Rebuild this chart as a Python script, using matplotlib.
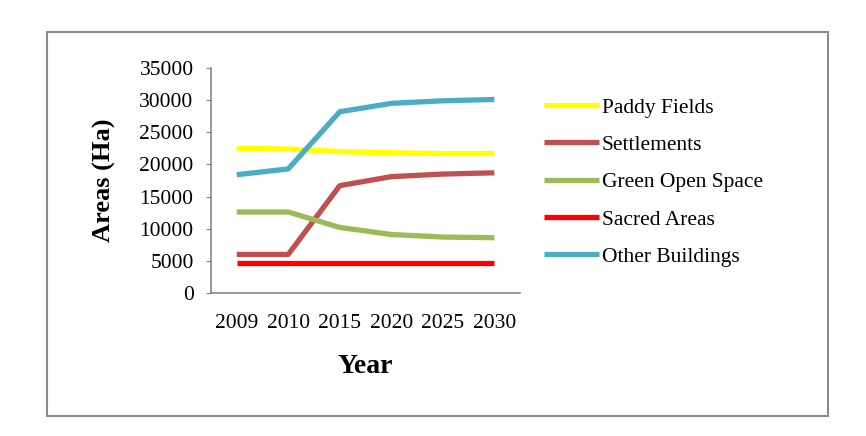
import matplotlib
matplotlib.use("Agg")
import matplotlib.pyplot as plt
from matplotlib.patches import Rectangle

# Data
years = ["2009", "2010", "2015", "2020", "2025", "2030"]
paddy_fields = [22500, 22400, 22000, 21800, 21700, 21700]
settlements = [6000, 6000, 16700, 18100, 18500, 18700]
green_open_space = [12600, 12600, 10200, 9100, 8700, 8600]
sacred_areas = [4600, 4600, 4600, 4600, 4600, 4600]
other_buildings = [18400, 19300, 28200, 29500, 29900, 30100]

series = [
    ("Paddy Fields", paddy_fields, "#FFFF00"),
    ("Settlements", settlements, "#C0504D"),
    ("Green Open Space", green_open_space, "#9BBB59"),
    ("Sacred Areas", sacred_areas, "#FF0000"),
    ("Other Buildings", other_buildings, "#4BACC6"),
]

plt.rcParams["font.family"] = ["Liberation Serif", "DejaVu Serif"]

fig = plt.figure(figsize=(8.66, 4.36), dpi=100)
ax = fig.add_axes([0.2436, 0.328, 0.357, 0.516])

x = list(range(len(years)))
for name, values, color in series:
    ax.plot(x, values, color=color, linewidth=3.8, label=name,
            solid_joinstyle="round", solid_capstyle="butt")

ax.set_xlim(-0.5, len(years) - 0.5)
ax.set_ylim(0, 35000)
ax.set_yticks(range(0, 35001, 5000))
ax.set_xticks(x)
ax.set_xticklabels(years)

for side in ["top", "right"]:
    ax.spines[side].set_visible(False)
for side in ["left", "bottom"]:
    ax.spines[side].set_color("#868686")
    ax.spines[side].set_linewidth(1.2)

ax.tick_params(axis="y", length=3.5, color="#868686", labelsize=15.5, pad=9)
ax.tick_params(axis="x", length=0, labelsize=15.5, pad=15)

ax.set_xlabel("Year", fontsize=20, fontweight="bold", labelpad=15)
ax.set_ylabel("Areas (Ha)", fontsize=19, fontweight="bold", labelpad=17)

ax.legend(loc="upper left", bbox_to_anchor=(0.628, 0.776),
          bbox_transform=fig.transFigure, frameon=False, fontsize=15.5,
          handlelength=2.55, handletextpad=0.15, labelspacing=0.8,
          borderaxespad=0, borderpad=0)

# Outer chart border
fig.patches.append(Rectangle((47 / 866, 1 - 416 / 436), (828 - 47) / 866,
                             (416 - 32) / 436, transform=fig.transFigure,
                             fill=False, edgecolor="#8C8C8C", linewidth=1.5))

fig.savefig("out.png", dpi=100)
